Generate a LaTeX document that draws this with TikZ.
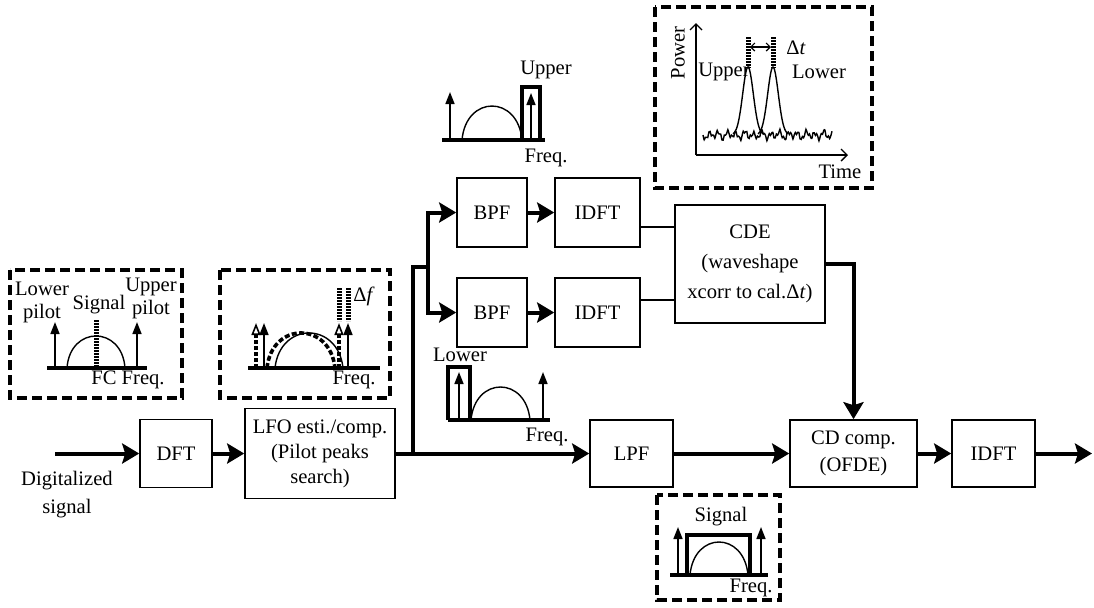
\documentclass[tikz,border=0pt]{standalone}
\usepackage{fontspec}
\setmainfont{Liberation Serif}
\usetikzlibrary{arrows.meta}
\newcommand{\fs}{\fontsize{10.3}{12.5}\selectfont}
\begin{document}
\begin{tikzpicture}[x=0.5pt,y=-0.5pt,
  box/.style={draw, line width=0.8pt, inner sep=0pt, align=center, font=\fs},
  conn/.style={line width=2pt},
  arr/.style={-{Stealth[length=8.5pt,width=10pt,inset=1.5pt]}},
  lnk/.style={line width=1.3pt},
  dbox/.style={line width=2pt, dash pattern=on 5pt off 2.5pt},
  base/.style={line width=2pt},
  sarr/.style={line width=0.8pt, -{Triangle[length=6pt,width=4.5pt]}},
  darr/.style={line width=1.6pt, dash pattern=on 2pt off 1pt, -{Triangle[open,length=6pt,width=4.5pt,line width=0.8pt]}},
  dotbar/.style={line width=2.5pt, dash pattern=on 1.1pt off 0.4pt},
  rthick/.style={line width=2pt},
  spec/.style={line width=0.7pt},
  lbl/.style={font=\fs, inner sep=0pt, align=center},
]
\useasboundingbox (0,0) rectangle (1094,607);

% ---------- main blocks ----------
\node[box, minimum width=36pt, minimum height=34pt] (dft) at (176,453.5) {DFT};
\node[box, minimum width=75pt, minimum height=45pt, font=\fontsize{10.3}{12.5}\selectfont] (lfo) at (320,453.5) {LFO esti./comp.\\(Pilot peaks\\search)};
\node[box, minimum width=35pt, minimum height=34.5pt] (bpf1) at (492,212.5) {BPF};
\node[box, minimum width=42.5pt, minimum height=34.5pt] (idft1) at (597.5,212.5) {IDFT};
\node[box, minimum width=35pt, minimum height=34.5pt] (bpf2) at (492,312.5) {BPF};
\node[box, minimum width=42.5pt, minimum height=34.5pt] (idft2) at (597.5,312.5) {IDFT};
\node[box, minimum width=75pt, minimum height=59pt, font=\fontsize{10.3}{15}\selectfont] (cde) at (750,264) {CDE\\(waveshape\\xcorr to cal.Δ\textit{t})};
\node[box, minimum width=41.5pt, minimum height=33.5pt] (lpf) at (631.5,453.5) {LPF};
\node[box, minimum width=63.5pt, minimum height=33.5pt, font=\fontsize{10.3}{13.5}\selectfont] (cdc) at (853.5,453.5) {CD comp.\\(OFDE)};
\node[box, minimum width=41.5pt, minimum height=33.5pt] (idft3) at (993.5,453.5) {IDFT};

\node[lbl, font=\fontsize{10.3}{14}\selectfont] (dig) at (67,495) {Digitalized\\signal};

% ---------- connectors ----------
\coordinate (in) at (55,453.5);
\coordinate (out) at (1092,453.5);
\coordinate (sp) at (413,453.5);
\coordinate (sp2) at (413,267);
\coordinate (br) at (428,267);
\draw[conn,arr] (in) -- (dft);
\draw[conn,arr] (dft) -- (lfo);
\draw[conn,arr] (lfo) -- (lpf);
\draw[conn] (sp) -- (sp2) -- (br);
\draw[conn,arr] (br) |- (bpf1);
\draw[conn,arr] (br) |- (bpf2);
\draw[conn,arr] (bpf1) -- (idft1);
\draw[conn,arr] (bpf2) -- (idft2);
\draw[lnk] ([yshift=-7.25pt]idft1.east) -- ([yshift=-7.25pt]idft1.east -| cde.west);
\draw[lnk] ([yshift=6.25pt]idft2.east) -- ([yshift=6.25pt]idft2.east -| cde.west);
\draw[conn,arr] (cde.east) -| (cdc.north);
\draw[conn,arr] (lpf) -- (cdc);
\draw[conn,arr] (cdc) -- (idft3);
\draw[conn,arr] (idft3) -- (out);

% ---------- inset 1: pilots ----------
\draw[dbox] (10,270) rectangle (182,398);
\draw[base] (47,368) -- (147,368);
\draw[sarr] (55,368) -- (55,322);
\draw[sarr] (137,368) -- (137,322);
\draw[spec] (67,368) .. controls (70,325.3) and (122,325.3) .. (125,368);
\draw[dotbar] (96,320) -- (96,368);
\node[lbl, font=\fontsize{10.3}{11.5}\selectfont] at (42,302) {Lower\\pilot};
\node[lbl] at (99,305) {Signal};
\node[lbl, font=\fontsize{10.3}{11.5}\selectfont] at (151,298) {Upper\\pilot};
\node[lbl] at (128,380) {FC Freq.};

% ---------- inset 2: LFO ----------
\draw[dbox] (220,270) rectangle (390,398);
\draw[base] (248,368) -- (380,368);
\draw[spec, line width=1.8pt, dash pattern=on 2.5pt off 1.2pt] (267,368) .. controls (272,321.3) and (330,321.3) .. (335,368);
\draw[spec] (275,368) .. controls (280,321.3) and (338,321.3) .. (343,368);
\draw[darr] (256,368) -- (256,323);
\draw[sarr] (264,368) -- (264,323);
\draw[darr] (339,368) -- (339,323);
\draw[sarr] (348,368) -- (348,323);
\draw[dotbar] (339,288) -- (339,321);
\draw[dotbar] (348,288) -- (348,321);
\node[lbl] at (364,296) {Δ\textit{f}};
\node[lbl] at (354,380) {Freq.};

% ---------- upper spectrum ----------
\draw[base] (442,140) -- (545,140);
\draw[sarr] (450,140) -- (450,92);
\draw[spec] (462,140) .. controls (466,94.7) and (518,94.7) .. (522,140);
\draw[rthick] (522,140) -- (522,87) -- (540,87) -- (540,140);
\draw[sarr] (531,140) -- (531,93);
\node[lbl] at (546,70) {Upper};
\node[lbl] at (546,158) {Freq.};

% ---------- lower spectrum ----------
\draw[rthick] (448,420) -- (448,367) -- (470,367) -- (470,420);
\draw[sarr] (459,420) -- (459,372);
\draw[base] (448,420) -- (550,420);
\draw[spec] (471,420) .. controls (475,376) and (526,376) .. (530,420);
\draw[sarr] (543,420) -- (543,372);
\node[lbl] at (460,355) {Lower};
\node[lbl] at (547,437) {Freq.};

% ---------- inset 3: time domain ----------
\draw[dbox] (655,7) rectangle (872,188);
\draw[line width=0.7pt, -{Straight Barb[length=3pt,width=6pt]}] (696,155) -- (696,23);
\draw[line width=0.7pt, -{Straight Barb[length=3pt,width=6pt]}] (696,155) -- (848,155);
\draw[spec] plot[smooth, domain=0:129, samples=110] ({703+\x},{135+3*sin(\x*41)+2.2*sin(\x*97)+1.2*sin(\x*23)});
\draw[spec] plot[smooth, domain=733:763, samples=50] (\x,{135-68*exp(-((\x-748)/7.5)^2)});
\draw[spec] plot[smooth, domain=758:788, samples=50] (\x,{135-68*exp(-((\x-773)/7.5)^2)});
\draw[dotbar] (748,37) -- (748,68);
\draw[dotbar] (773,37) -- (773,68);
\draw[line width=0.6pt, {Straight Barb[length=2pt,width=4pt]}-{Straight Barb[length=2pt,width=4pt]}] (750,47) -- (771,47);
\node[lbl] at (796,48) {Δ\textit{t}};
\node[lbl] at (724,72) {Upper};
\node[lbl] at (819,72) {Lower};
\node[lbl, rotate=90] at (678,53) {Power};
\node[lbl] at (840,172) {Time};

% ---------- inset 4: signal ----------
\draw[dbox] (657,495) rectangle (780,600);
\draw[base] (670,575) -- (768,575);
\draw[rthick] (687,575) -- (687,535) -- (750,535) -- (750,575);
\draw[spec] (690,575) .. controls (694,531) and (744,531) .. (748,575);
\draw[sarr] (678,575) -- (678,527);
\draw[sarr] (761,575) -- (761,527);
\node[lbl] at (721,517) {Signal};
\node[lbl] at (751,588) {Freq.};
\end{tikzpicture}
\end{document}
